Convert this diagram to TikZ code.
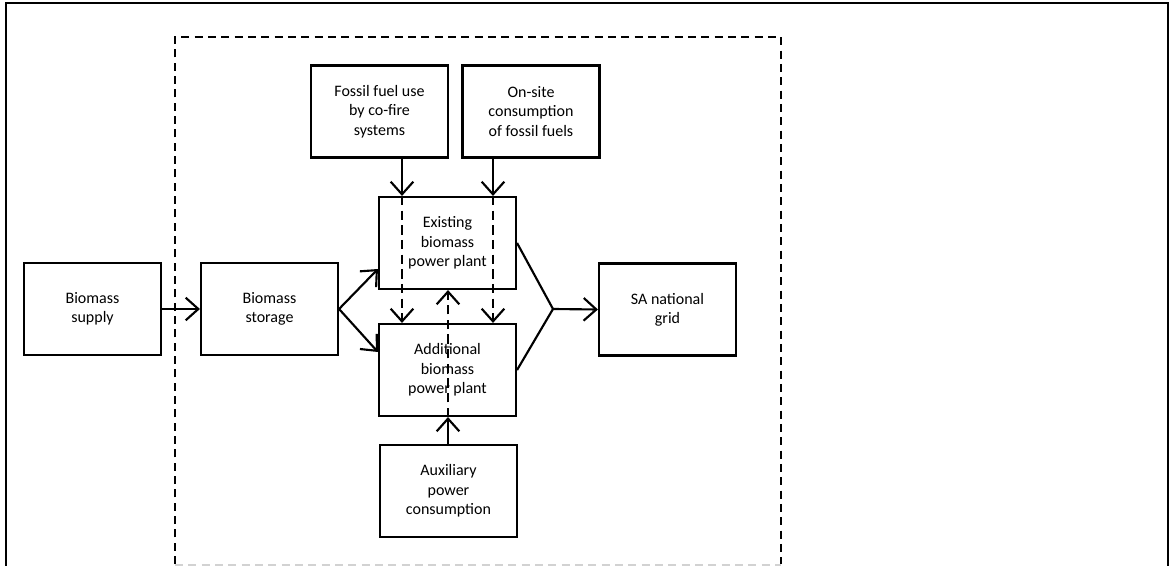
\documentclass[tikz,border=0pt]{standalone}
\usepackage{fontspec}
\setmainfont{Carlito}
\usetikzlibrary{arrows.meta,calc}

\tikzset{
  box/.style={draw, line width=1.6pt, minimum width=102.75pt, minimum height=69pt,
              inner sep=2pt, align=center, font=\fontsize{12}{14.5}\selectfont},
  flow/.style={line width=1.6pt, -{Straight Barb[length=9.5pt,width=17pt,line width=1.6pt]}},
  link/.style={line width=1.6pt},
  inner dash/.style={dash pattern=on 7pt off 4pt},
  boundary/.style={line width=1.4pt, dash pattern=on 6pt off 4pt},
  frame/.style={line width=2.2pt}
}

\begin{document}
\begin{tikzpicture}[x=0.75pt,y=-0.75pt]
  \useasboundingbox (0,0) rectangle (1171,566);

  % outer frame
  \draw[frame] (6,570) -- (6,3) -- (1168,3) -- (1168,570);

  % project boundary
  \draw[boundary] (175,564) -- (175,37) -- (781,37) -- (781,564);
  \draw[boundary,gray!35] (175,565) -- (781,565);

  % process boxes
  \node[box] (supply)  at (92.5,309)  {Biomass\\supply};
  \node[box] (storage) at (269.5,309) {Biomass\\storage};
  \node[box] (fossil)  at (379.5,111.5) {Fossil fuel use\\by co-fire\\systems};
  \node[box] (onsite)  at (531,111.5) {On-site\\consumption\\of fossil fuels};
  \node[box] (ex)      at (447.5,243) {Existing\\biomass\\power plant};
  \node[box] (add)     at (447.5,370) {Additional\\biomass\\power plant};
  \node[box] (aux)     at (448.5,491) {Auxiliary\\power\\consumption};
  \node[box] (grid)    at (667.5,309.5) {SA national\\grid};

  % vertical flow lines
  \coordinate (c1) at (402,0);
  \coordinate (c2) at (493,0);
  \coordinate (c3) at (448,0);
  \coordinate (m)  at (553,309);

  % biomass path
  \draw[flow] (supply.east) -- (storage.west);
  \draw[flow] (storage.east) -- ([yshift=-19.5pt]ex.west);
  \draw[flow] (storage.east) -- ([yshift=13.5pt]add.west);

  % fossil fuel inputs
  \draw[flow] (fossil.south -| c1) -- (ex.north -| c1);
  \draw[flow,inner dash] (ex.north -| c1) -- (add.north -| c1);
  \draw[flow] (onsite.south -| c2) -- (ex.north -| c2);
  \draw[flow,inner dash] (ex.north -| c2) -- (add.north -| c2);

  % auxiliary power
  \draw[flow] (aux.north -| c3) -- (add.south -| c3);
  \draw[flow,inner dash] (add.south -| c3) -- (ex.south -| c3);

  % export to the grid
  \draw[link,line join=miter] (ex.east) -- (m) -- (add.east);
  \draw[flow] (m) -- (grid.west);
\end{tikzpicture}
\end{document}
